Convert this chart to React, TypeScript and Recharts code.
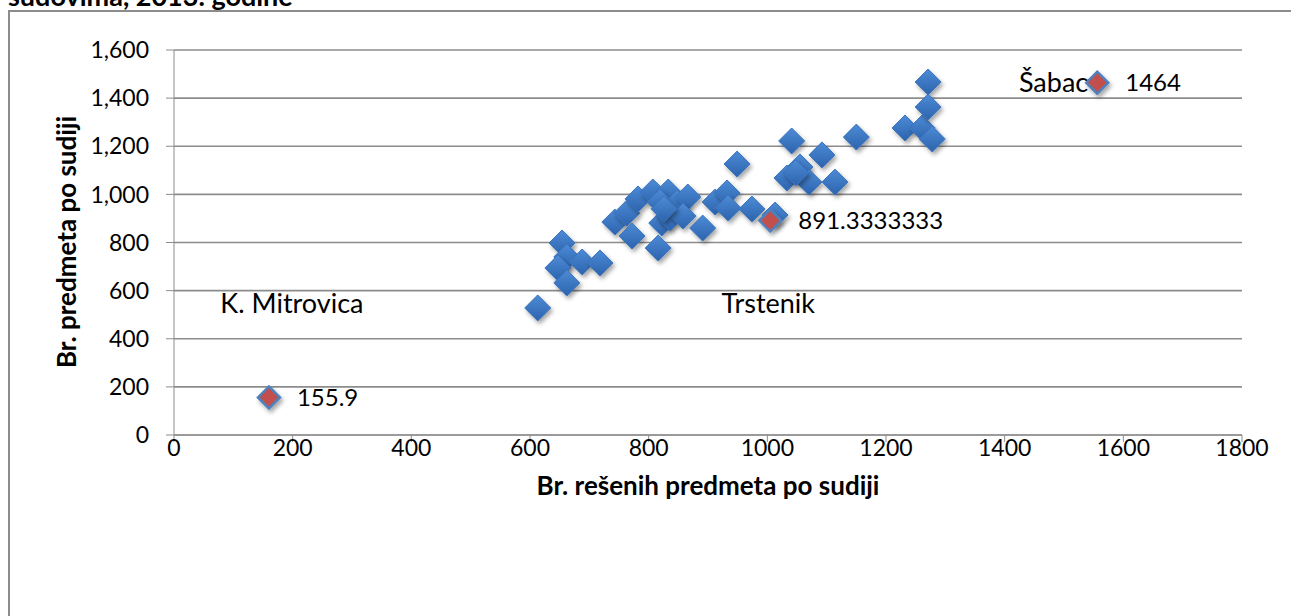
import React from 'react';
import { ScatterChart, Scatter, XAxis, YAxis, CartesianGrid } from 'recharts';

// solved cases per judge (x) vs. cases per judge (y), one entry per court
const solvedPerJudge = [
  613, 654, 662, 647, 688, 718, 662, 743, 763, 772, 782, 807, 833, 819, 822, 836, 848, 866, 858, 816,
  891, 912, 932, 934, 974, 1013, 949, 1041, 1092, 1055, 1033, 1070, 1114, 1150, 1232, 1261, 1278, 1271,
  1271, 1048, 826,
];
const casesPerJudge = [
  528, 798, 740, 694, 719, 715, 632, 885, 922, 827, 981, 1010, 1010, 968, 881, 902, 964, 989, 910, 777,
  860, 968, 1006, 943, 939, 914, 1126, 1222, 1164, 1114, 1068, 1051, 1051, 1238, 1276, 1276, 1230, 1467,
  1363, 1090, 940,
];

// highlighted courts
const courtNames = ['K. Mitrovica', 'Trstenik', 'Šabac'];
const courtSolved = [160, 1005, 1556];
const courtCases = [155.9, 891.3333333, 1464];

const xTicks = [0, 200, 400, 600, 800, 1000, 1200, 1400, 1600, 1800];
const yTicks = [0, 200, 400, 600, 800, 1000, 1200, 1400, 1600];

const FONT = 'Lato, "Open Sans", sans-serif';

// where each court's name label sits relative to its marker
const nameOffsets: { [key: string]: { dx: number; dy: number; anchor: 'start' | 'middle' | 'end' } } = {
  'K. Mitrovica': { dx: 23, dy: -94, anchor: 'middle' },
  Trstenik: { dx: -2, dy: 83, anchor: 'middle' },
  'Šabac': { dx: -9, dy: 0, anchor: 'end' },
};

const BlueDiamond = (props: any) => {
  const { cx, cy } = props;
  const r = 13;
  return (
    <polygon
      points={`${cx},${cy - r} ${cx + r},${cy} ${cx},${cy + r} ${cx - r},${cy}`}
      fill="url(#blueDiamondFill)"
      stroke="#3b74bd"
      strokeWidth={1}
      filter="url(#diamondShadow)"
    />
  );
};

const CourtMarker = (props: any) => {
  const { cx, cy, payload } = props;
  const r = 11;
  const off = nameOffsets[payload.name];
  return (
    <g>
      <polygon
        points={`${cx},${cy - r} ${cx + r},${cy} ${cx},${cy + r} ${cx - r},${cy}`}
        fill="#c0504d"
        stroke="#4f81bd"
        strokeWidth={2.5}
        filter="url(#diamondShadow)"
      />
      <text x={cx + 28} y={cy} dy="0.35em" fontSize={24} fontFamily={FONT} fill="#000">
        {String(payload.y)}
      </text>
      <text x={cx + off.dx} y={cy + off.dy} dy="0.35em" textAnchor={off.anchor} fontSize={27} fontFamily={FONT} fill="#000">
        {payload.name}
      </text>
    </g>
  );
};

export default function App() {
  const mainData = solvedPerJudge.map((x, i) => ({ x, y: casesPerJudge[i] }));
  const courtData = courtNames.map((name, i) => ({ name, x: courtSolved[i], y: courtCases[i] }));

  return (
    <div style={{ position: 'fixed', left: 0, top: 0, width: 1291, height: 616, overflow: 'hidden', background: '#fff' }}>
      <svg width={0} height={0} style={{ position: 'absolute' }}>
        <defs>
          <linearGradient id="blueDiamondFill" x1="0" y1="0" x2="0" y2="1">
            <stop offset="0%" stopColor="#4d8bd6" />
            <stop offset="100%" stopColor="#2c63ad" />
          </linearGradient>
          <filter id="diamondShadow" x="-50%" y="-50%" width="200%" height="200%">
            <feDropShadow dx={2} dy={3} stdDeviation={2} floodColor="#000" floodOpacity={0.35} />
          </filter>
        </defs>
      </svg>

      <div
        style={{
          position: 'absolute', left: 8, top: -18, fontFamily: FONT, fontWeight: 700, fontSize: 27,
          lineHeight: 1, whiteSpace: 'nowrap', color: '#000',
        }}
      >
        sudovima, 2013. godine
      </div>

      <div
        style={{
          position: 'absolute', left: 8, top: 10, width: 1400, height: 800,
          borderTop: '2px solid #8c8c8c', borderLeft: '2px solid #8c8c8c',
        }}
      />

      <div style={{ position: 'absolute', left: 0, top: 0 }}>
        <ScatterChart width={1291} height={616} margin={{ top: 50, right: 49, bottom: 121, left: 0 }}>
          <CartesianGrid vertical={false} stroke="#8c8c8c" strokeWidth={1.6} />
          <XAxis
            type="number"
            dataKey="x"
            domain={[0, 1800]}
            ticks={xTicks}
            height={60}
            tickSize={7}
            tickMargin={-2}
            stroke="#8c8c8c"
            tick={{ fill: '#000', fontSize: 23, fontFamily: FONT }}
            allowDataOverflow
          />
          <YAxis
            type="number"
            dataKey="y"
            domain={[0, 1600]}
            ticks={yTicks}
            width={174}
            tickSize={8}
            tickMargin={17}
            stroke="#8c8c8c"
            tick={{ fill: '#000', fontSize: 23, fontFamily: FONT }}
            tickFormatter={(v: number) => v.toLocaleString('en-US')}
          />
          <Scatter data={mainData} shape={<BlueDiamond />} isAnimationActive={false} />
          <Scatter data={courtData} shape={<CourtMarker />} isAnimationActive={false} />
        </ScatterChart>
      </div>

      <div
        style={{
          position: 'absolute', left: 708, top: 485, transform: 'translate(-50%, -50%)', fontFamily: FONT,
          fontWeight: 700, fontSize: 26, whiteSpace: 'nowrap', color: '#000',
        }}
      >
        Br. rešenih predmeta po sudiji
      </div>
      <div
        style={{
          position: 'absolute', left: 66, top: 242, transform: 'translate(-50%, -50%) rotate(-90deg)', fontFamily: FONT,
          fontWeight: 700, fontSize: 26, whiteSpace: 'nowrap', color: '#000',
        }}
      >
        Br. predmeta po sudiji
      </div>
    </div>
  );
}
